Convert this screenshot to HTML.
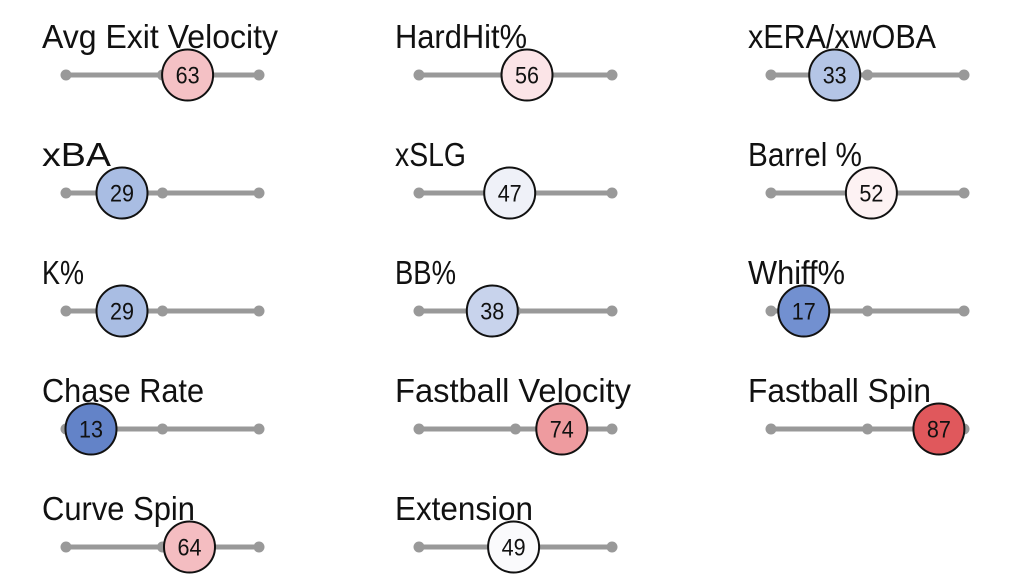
<!DOCTYPE html>
<html><head><meta charset="utf-8"><style>
html,body{margin:0;padding:0;background:#fff;width:1024px;height:575px;overflow:hidden}
.l{font-size:33px;fill:#111}
.n{font-size:24px;fill:#111;text-anchor:middle}
.t{stroke:#999;stroke-width:5}
.d{fill:#999}
.b{stroke:#111;stroke-width:2}
</style></head><body>
<svg width="1024" height="575" xmlns="http://www.w3.org/2000/svg" font-family="Liberation Sans, sans-serif">
<defs>
<g id="tr0"><line class="t" x1="66" y1="0" x2="259" y2="0"/><circle class="d" cx="66" cy="0" r="5.5"/><circle class="d" cx="162.5" cy="0" r="5.5"/><circle class="d" cx="259" cy="0" r="5.5"/></g>
<g id="tr1"><line class="t" x1="419" y1="0" x2="612" y2="0"/><circle class="d" cx="419" cy="0" r="5.5"/><circle class="d" cx="515.5" cy="0" r="5.5"/><circle class="d" cx="612" cy="0" r="5.5"/></g>
<g id="tr2"><line class="t" x1="771" y1="0" x2="964" y2="0"/><circle class="d" cx="771" cy="0" r="5.5"/><circle class="d" cx="867.5" cy="0" r="5.5"/><circle class="d" cx="964" cy="0" r="5.5"/></g>
</defs>

<text class="l" x="42" y="48" textLength="236" lengthAdjust="spacingAndGlyphs">Avg Exit Velocity</text>
<use href="#tr0" y="75"/>
<circle class="b" cx="187.6" cy="75" r="25.5" fill="#f4c1c5"/><text class="n" x="187.6" y="83.5" textLength="24" lengthAdjust="spacingAndGlyphs">63</text>

<text class="l" x="395" y="48" textLength="132" lengthAdjust="spacingAndGlyphs">HardHit%</text>
<use href="#tr1" y="75"/>
<circle class="b" cx="527" cy="75" r="25.5" fill="#fbe4e7"/><text class="n" x="527" y="83.5" textLength="24" lengthAdjust="spacingAndGlyphs">56</text>

<text class="l" x="748" y="48" textLength="188" lengthAdjust="spacingAndGlyphs">xERA/xwOBA</text>
<use href="#tr2" y="75"/>
<circle class="b" cx="834.7" cy="75" r="25.5" fill="#b4c5e6"/><text class="n" x="834.7" y="83.5" textLength="24" lengthAdjust="spacingAndGlyphs">33</text>

<text class="l" x="42" y="166" textLength="69" lengthAdjust="spacingAndGlyphs">xBA</text>
<use href="#tr0" y="193"/>
<circle class="b" cx="122" cy="193" r="25.5" fill="#a9bde3"/><text class="n" x="122" y="201.5" textLength="24" lengthAdjust="spacingAndGlyphs">29</text>

<text class="l" x="395" y="166" textLength="71" lengthAdjust="spacingAndGlyphs">xSLG</text>
<use href="#tr1" y="193"/>
<circle class="b" cx="509.7" cy="193" r="25.5" fill="#eff1f8"/><text class="n" x="509.7" y="201.5" textLength="24" lengthAdjust="spacingAndGlyphs">47</text>

<text class="l" x="748" y="166" textLength="114" lengthAdjust="spacingAndGlyphs">Barrel %</text>
<use href="#tr2" y="193"/>
<circle class="b" cx="871.4" cy="193" r="25.5" fill="#fdf2f3"/><text class="n" x="871.4" y="201.5" textLength="24" lengthAdjust="spacingAndGlyphs">52</text>

<text class="l" x="42" y="284" textLength="42" lengthAdjust="spacingAndGlyphs">K%</text>
<use href="#tr0" y="311"/>
<circle class="b" cx="122" cy="311" r="25.5" fill="#a9bde3"/><text class="n" x="122" y="319.5" textLength="24" lengthAdjust="spacingAndGlyphs">29</text>

<text class="l" x="395" y="284" textLength="61" lengthAdjust="spacingAndGlyphs">BB%</text>
<use href="#tr1" y="311"/>
<circle class="b" cx="492.3" cy="311" r="25.5" fill="#c8d3ec"/><text class="n" x="492.3" y="319.5" textLength="24" lengthAdjust="spacingAndGlyphs">38</text>

<text class="l" x="748" y="284" textLength="97" lengthAdjust="spacingAndGlyphs">Whiff%</text>
<use href="#tr2" y="311"/>
<circle class="b" cx="803.8" cy="311" r="25.5" fill="#7290d0"/><text class="n" x="803.8" y="319.5" textLength="24" lengthAdjust="spacingAndGlyphs">17</text>

<text class="l" x="42" y="402" textLength="162" lengthAdjust="spacingAndGlyphs">Chase Rate</text>
<use href="#tr0" y="429"/>
<circle class="b" cx="91" cy="429" r="25.5" fill="#6383c8"/><text class="n" x="91" y="437.5" textLength="24" lengthAdjust="spacingAndGlyphs">13</text>

<text class="l" x="395" y="402" textLength="236" lengthAdjust="spacingAndGlyphs">Fastball Velocity</text>
<use href="#tr1" y="429"/>
<circle class="b" cx="561.8" cy="429" r="25.5" fill="#ee9b9f"/><text class="n" x="561.8" y="437.5" textLength="24" lengthAdjust="spacingAndGlyphs">74</text>

<text class="l" x="748" y="402" textLength="183" lengthAdjust="spacingAndGlyphs">Fastball Spin</text>
<use href="#tr2" y="429"/>
<circle class="b" cx="938.9" cy="429" r="25.5" fill="#e0585c"/><text class="n" x="938.9" y="437.5" textLength="24" lengthAdjust="spacingAndGlyphs">87</text>

<text class="l" x="42" y="520" textLength="153" lengthAdjust="spacingAndGlyphs">Curve Spin</text>
<use href="#tr0" y="547"/>
<circle class="b" cx="189.5" cy="547" r="25.5" fill="#f4bdc1"/><text class="n" x="189.5" y="555.5" textLength="24" lengthAdjust="spacingAndGlyphs">64</text>

<text class="l" x="395" y="520" textLength="138" lengthAdjust="spacingAndGlyphs">Extension</text>
<use href="#tr1" y="547"/>
<circle class="b" cx="513.6" cy="547" r="25.5" fill="#fafafc"/><text class="n" x="513.6" y="555.5" textLength="24" lengthAdjust="spacingAndGlyphs">49</text>
</svg>
</body></html>
